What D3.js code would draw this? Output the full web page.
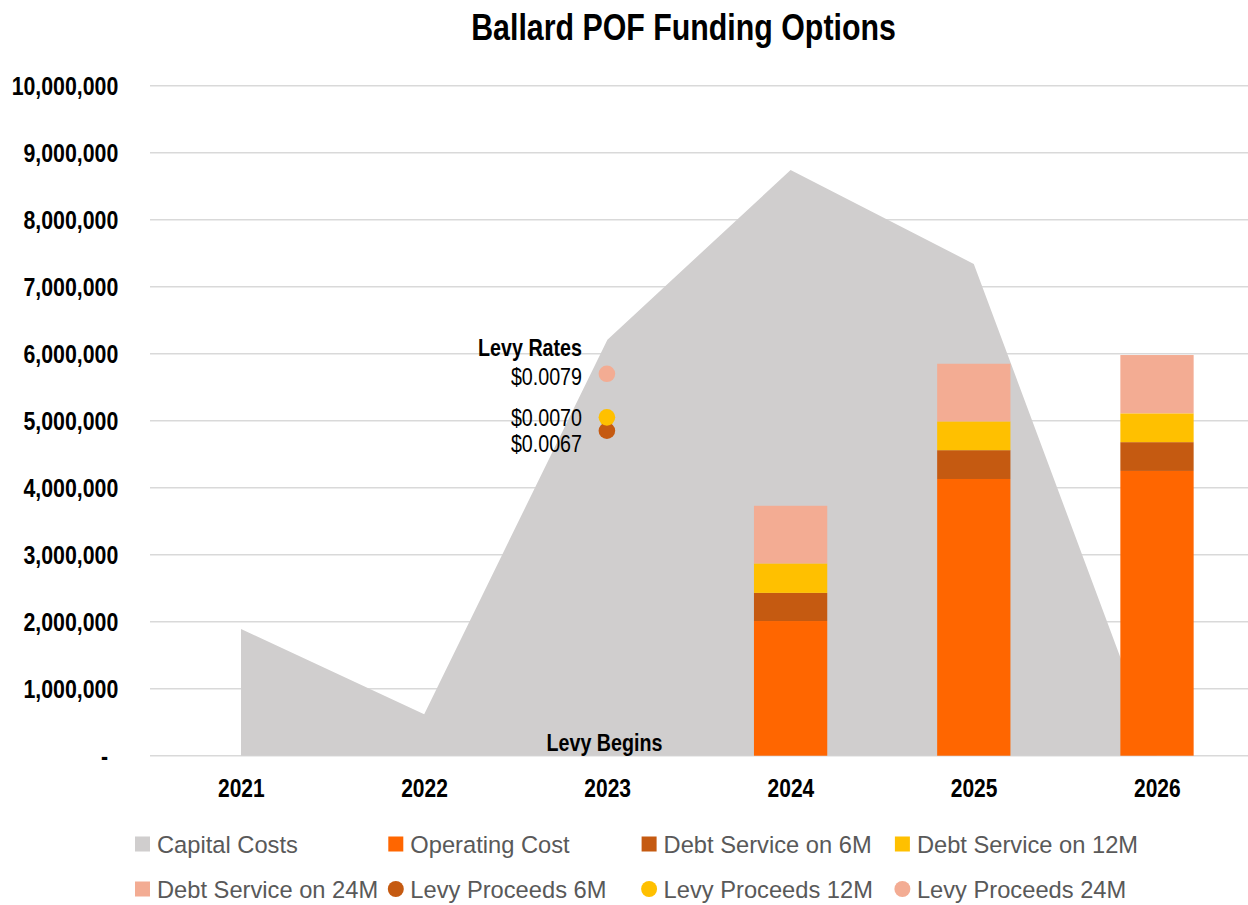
<!DOCTYPE html>
<html>
<head>
<meta charset="utf-8">
<script src="https://cdn.jsdelivr.net/npm/d3@7"></script>
<style>
  html, body { margin: 0; padding: 0; background: #ffffff; }
  svg { display: block; }
</style>
</head>
<body>
<svg id="chart" width="1248" height="905"></svg>
<script>
// ---------------- DATA ----------------
const years = ["2021", "2022", "2023", "2024", "2025", "2026"];
const capitalCosts = [1890000, 620000, 6210000, 8740000, 7340000, 0];
const operatingCost = [null, null, null, 2010000, 4130000, 4250000];
const debtService6M = [null, null, null, 420000, 430000, 430000];
const debtService12M = [null, null, null, 440000, 430000, 430000];
const debtService24M = [null, null, null, 860000, 860000, 870000];
const levyProceeds6M = [null, null, 4850000, null, null, null];
const levyProceeds12M = [null, null, 5050000, null, null, null];
const levyProceeds24M = [null, null, 5700000, null, null, null];
const levyRateLabels = ["$0.0079", "$0.0070", "$0.0067"];
const yTicks = [0, 1000000, 2000000, 3000000, 4000000, 5000000, 6000000, 7000000, 8000000, 9000000, 10000000];
const chartTitle = "Ballard POF Funding Options";
const legendItems = [
  { name: "Capital Costs", shape: "rect", color: "#D0CECE" },
  { name: "Operating Cost", shape: "rect", color: "#FF6600" },
  { name: "Debt Service on 6M", shape: "rect", color: "#C55A11" },
  { name: "Debt Service on 12M", shape: "rect", color: "#FFC000" },
  { name: "Debt Service on 24M", shape: "rect", color: "#F3AC93" },
  { name: "Levy Proceeds 6M", shape: "circle", color: "#C55A11" },
  { name: "Levy Proceeds 12M", shape: "circle", color: "#FFC000" },
  { name: "Levy Proceeds 24M", shape: "circle", color: "#F3AC93" }
];

// ---------------- FONT DETECTION ----------------
function fontExists(name) {
  const c = document.createElement("canvas").getContext("2d");
  const s = "0123456789 Levy Rates abcdefg";
  c.font = "40px monospace";
  const w1 = c.measureText(s).width;
  c.font = "40px '" + name + "', monospace";
  const w2 = c.measureText(s).width;
  return Math.abs(w1 - w2) > 0.5;
}
const hasNarrow = fontExists("Liberation Sans Narrow");
const NARROW_SCALE = 0.82;

const svg = d3.select("#chart");

function addText(parent, x, y, str, opt) {
  const o = Object.assign({ size: 24, weight: "normal", anchor: "start", fill: "#000", narrow: true }, opt || {});
  let t;
  if (o.narrow && !hasNarrow) {
    t = parent.append("text")
      .attr("x", 0).attr("y", 0)
      .attr("transform", `translate(${x},${y}) scale(${NARROW_SCALE},1)`)
      .style("font-family", "'Liberation Sans', Arial, sans-serif");
  } else {
    t = parent.append("text")
      .attr("x", x).attr("y", y)
      .style("font-family", o.narrow ? "'Liberation Sans Narrow', 'Arial Narrow', sans-serif" : "'Liberation Sans', Arial, sans-serif");
  }
  t.style("font-size", o.size + "px")
    .style("font-weight", o.weight)
    .attr("text-anchor", o.anchor)
    .attr("fill", o.fill)
    .text(str);
  return t;
}

// ---------------- SCALES ----------------
const plotLeft = 149.4, plotRight = 1248.6;
const x = d3.scaleBand().domain(years).range([plotLeft, plotRight]).padding(0);
const xc = d => x(d) + x.bandwidth() / 2;
const y = d3.scaleLinear().domain([0, 10000000]).range([755.7, 85.7]);
const barW = x.bandwidth() * 0.4;

// ---------------- GRIDLINES ----------------
svg.append("g").selectAll("line").data(yTicks).join("line")
  .attr("x1", 150).attr("x2", 1248)
  .attr("y1", d => y(d)).attr("y2", d => y(d))
  .attr("stroke", "#D9D9D9").attr("stroke-width", 1.5);

// ---------------- AREA (Capital Costs) ----------------
const area = d3.area()
  .x((d, i) => xc(years[i]))
  .y0(y(0))
  .y1(d => y(d));
svg.append("path")
  .datum(capitalCosts)
  .attr("d", area)
  .attr("fill", "#D0CECE");

// ---------------- STACKED BARS ----------------
const stackSeries = [
  { vals: operatingCost, color: "#FF6600" },
  { vals: debtService6M, color: "#C55A11" },
  { vals: debtService12M, color: "#FFC000" },
  { vals: debtService24M, color: "#F3AC93" }
];
const barG = svg.append("g");
years.forEach((yr, i) => {
  let base = 0;
  stackSeries.forEach(s => {
    const v = s.vals[i];
    if (v == null) return;
    barG.append("rect")
      .attr("x", xc(yr) - barW / 2)
      .attr("width", barW)
      .attr("y", y(base + v))
      .attr("height", y(base) - y(base + v))
      .attr("fill", s.color);
    base += v;
  });
});

// ---------------- LEVY DOTS ----------------
const dotSeries = [
  { vals: levyProceeds6M, color: "#C55A11" },
  { vals: levyProceeds12M, color: "#FFC000" },
  { vals: levyProceeds24M, color: "#F3AC93" }
];
dotSeries.forEach(s => {
  years.forEach((yr, i) => {
    if (s.vals[i] == null) return;
    svg.append("circle")
      .attr("cx", xc(yr) - 0.5)
      .attr("cy", y(s.vals[i]))
      .attr("r", 8.3)
      .attr("fill", s.color);
  });
});

// ---------------- ANNOTATIONS ----------------
addText(svg, 582, 356, "Levy Rates", { size: 24, weight: "bold", anchor: "end" });
addText(svg, 582, 385, levyRateLabels[0], { size: 24, anchor: "end" });
addText(svg, 582, 426, levyRateLabels[1], { size: 24, anchor: "end" });
addText(svg, 582, 452, levyRateLabels[2], { size: 24, anchor: "end" });
addText(svg, 604.5, 751, "Levy Begins", { size: 24, weight: "bold", anchor: "middle" });

// ---------------- AXES LABELS ----------------
const fmt = d3.format(",");
yTicks.forEach(t => {
  if (t === 0) {
    addText(svg, 108, y(t) + 9.3, "-", { size: 26, weight: "bold", anchor: "end" });
  } else {
    addText(svg, 118.3, y(t) + 9.3, fmt(t), { size: 26, weight: "bold", anchor: "end" });
  }
});
years.forEach(yr => {
  addText(svg, xc(yr) + 0.3, 796.7, yr, { size: 25.6, weight: "bold", anchor: "middle" });
});

// ---------------- TITLE ----------------
addText(svg, 683.5, 40, chartTitle, { size: 37, weight: "bold", anchor: "middle" });

// ---------------- LEGEND ----------------
const legG = svg.append("g");
legendItems.forEach((it, i) => {
  const col = i % 4, row = Math.floor(i / 4);
  const mx = 135 + col * 253.3;
  const cy = row === 0 ? 844 : 889;
  if (it.shape === "rect") {
    legG.append("rect").attr("x", mx).attr("y", cy - 7.5).attr("width", 15).attr("height", 15).attr("fill", it.color);
  } else {
    legG.append("circle").attr("cx", mx + 7.5).attr("cy", cy).attr("r", 8).attr("fill", it.color);
  }
  addText(legG, mx + 22, cy + 8.5, it.name, { size: 23.7, anchor: "start", fill: "#595959", narrow: false });
});
</script>
</body>
</html>
